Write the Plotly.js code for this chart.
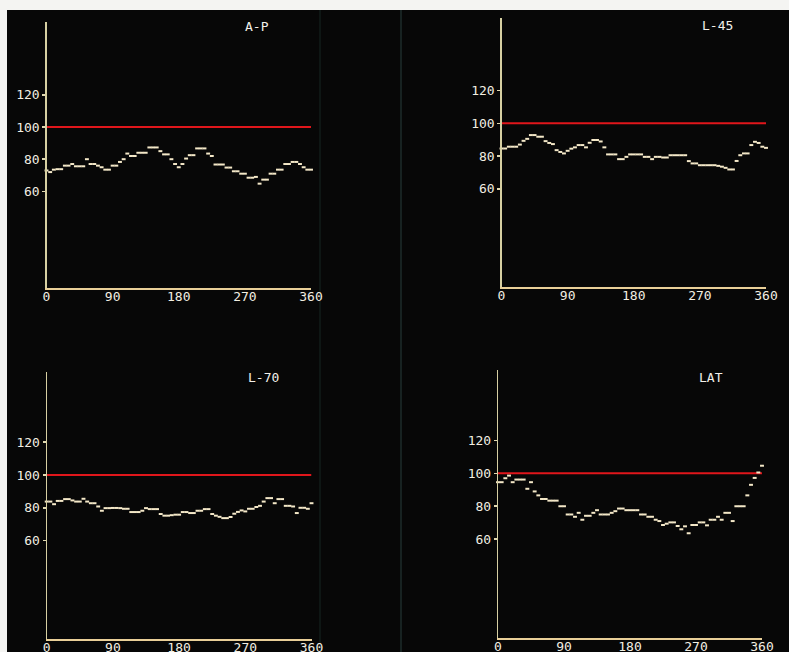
<!DOCTYPE html>
<html>
<head>
<meta charset="utf-8">
<script src="https://cdn.plot.ly/plotly-3.0.1.min.js"></script>
<style>
html,body{margin:0;padding:0;background:#f4f4f2;}
#chart{width:789px;height:652px;}
</style>
</head>
<body>
<div id="chart"></div>
<script>
// ---- data (angle in degrees, value in %) ----
const angles = [0,5,10,15,20,25,30,35,40,45,50,55,60,65,70,75,80,85,90,95,100,105,110,115,120,125,130,135,140,145,150,155,160,165,170,175,180,185,190,195,200,205,210,215,220,225,230,235,240,245,250,255,260,265,270,275,280,285,290,295,300,305,310,315,320,325,330,335,340,345,350,355,360];

const panelNames = ["A-P", "L-45", "L-70", "LAT"];

const apValues = [73,72,73.5,73.8,73.8,76,76,77,75.6,75.6,75.6,80,77,77,76,75,73.5,73.5,76,76,78.3,80,83.5,82,82,84,84,84,87.3,87.3,87.3,85,83,83,80,77,75,77,80.4,82.5,82.5,86.7,86.7,86.7,83.5,82,76.7,76.7,76.7,74.8,74.8,72.5,72.5,71,71,68.5,68.5,69,64.8,67.3,67.3,71,71,73.5,73.5,77,77,78.3,78.3,77,75,73.5,73.5];

const l45Values = [84.6,84.6,85.7,85.7,85.7,87,89.3,90.5,92.8,92.8,91.8,91.8,89.1,88,87.3,83.6,82.5,81.6,83.2,84.5,85.3,86.7,86.7,85.3,88.1,89.8,89.8,88.9,85.3,81,81,81,78.1,78.1,79.5,81,81,81,81,79.5,79.5,78.1,79.5,79.5,79.1,79.1,80.5,80.5,80.5,80.5,80.5,76.9,75.5,75.5,74.4,74.4,74.4,74.4,74.4,74,73.5,72.8,71.8,71.8,77,80.5,81.6,81.6,86.7,88.7,88,85.7,85];

const l70Values = [83.8,83.8,82.2,84.2,84.2,85.3,85.3,84.5,83.8,83.8,85.5,83.8,82.8,82.8,80.8,78.2,79.8,79.8,79.9,79.9,79.8,79.4,79.4,77.4,77.4,77.4,78.2,79.8,79.2,79.2,79.2,76.2,75.2,75.2,75.5,75.8,75.8,77.4,77.4,76.8,76.8,78.2,78.2,79.2,79.2,76.2,75.2,74.5,73.7,73.7,74.4,76.4,77.5,78.4,77.8,79.4,79.4,80.5,81.2,83.8,85.9,85.9,82.8,85.3,85.3,81.2,81.2,80.8,76.8,80,80,79.4,82.8];

const latValues = [94.6,94.6,97,98.6,94.6,96.2,96.2,96.2,90.6,94.6,89,86.6,84.4,84.4,83.4,83.4,83.4,80,80,75,75,73.6,76,71.8,74.2,74.2,76,77.6,75,75,75,76,77,78.6,78.6,77.6,77.6,77.6,77.6,75,75,73.6,73.6,71.8,71,68.6,69.4,70.2,70.2,68,66,67.8,63.6,68.6,68.6,70.2,70.2,68.4,71.8,71.8,73.6,71.8,76,76,71,80,80,80,86.6,93,97.2,100.5,104.6];

const refLineX = [0, 360];
const refLineY = [100, 100];

const xTicks = [0, 90, 180, 270, 360];
const yTicks = [60, 80, 100, 120];

// ---- geometry (pixels) ----
const W = 789, H = 652;
const geo = [
  {x0:46.5, x1:311,  y0:288, y100:127,   ytop:22,  tx:257, ty:27},
  {x0:501.5,x1:766,  y0:287, y100:123.3, ytop:18,  tx:717, ty:25},
  {x0:46.7, x1:311.5,y0:639, y100:475,   ytop:372, tx:263, ty:377},
  {x0:498,  x1:762,  y0:638, y100:473.3, ytop:370, tx:711, ty:377}
];
const series = [apValues, l45Values, l70Values, latValues];

const mono = "DejaVu Sans Mono, Liberation Mono, monospace";
const dotColor = "#f4e8c8";
const tickFont = {family: mono, size: 13, color: "#f2eee2"};

const traces = [];
const layout = {
  width: W, height: H,
  margin: {l:0, r:0, t:0, b:0},
  paper_bgcolor: "#f4f4f2",
  plot_bgcolor: "rgba(0,0,0,0)",
  showlegend: false,
  annotations: [],
  shapes: [
    {type:"rect", xref:"paper", yref:"paper", x0:7/W, x1:1, y0:0, y1:1-10/H,
     fillcolor:"#070707", line:{width:0}, layer:"below"},
    {type:"line", xref:"paper", yref:"paper", x0:401/W, x1:401/W, y0:0, y1:1-10/H,
     line:{color:"#1e2d2b", width:1.5}, layer:"below"},
    {type:"line", xref:"paper", yref:"paper", x0:320/W, x1:320/W, y0:0, y1:1-10/H,
     line:{color:"#121c1a", width:1.5}, layer:"below"}
  ]
};

geo.forEach((g, i) => {
  const n = i === 0 ? "" : String(i + 1);
  const ppu = (g.y0 - g.y100) / 100;
  const ymax = (g.y0 - g.ytop) / ppu;
  layout["xaxis" + n] = {
    domain: [g.x0 / W, g.x1 / W],
    range: [0, 360],
    anchor: "y" + n,
    showline: true, linecolor: "#e9cf98", linewidth: 1.5,
    showgrid: false, zeroline: false,
    tickvals: xTicks, ticks: "", tickfont: tickFont,
    ticklabelstandoff: -4,
    fixedrange: true
  };
  layout["yaxis" + n] = {
    domain: [1 - g.y0 / H, 1 - g.ytop / H],
    range: [0, ymax],
    anchor: "x" + n,
    showline: true, linecolor: "#d6cfa2", linewidth: 1.2,
    showgrid: false, zeroline: false,
    tickvals: yTicks, ticks: "outside", ticklen: 3, tickcolor: "#e0d8b0", tickwidth: 1.5,
    tickfont: tickFont,
    fixedrange: true
  };
  layout.annotations.push({
    text: panelNames[i], xref: "paper", yref: "paper",
    x: g.tx / W, y: 1 - g.ty / H, showarrow: false,
    xanchor: "center", yanchor: "middle",
    font: {family: mono, size: 13, color: "#f2f0ea"}
  });
  traces.push({
    x: refLineX, y: refLineY, xaxis: "x" + n, yaxis: "y" + n,
    mode: "lines", line: {color: "#e0161b", width: 2}, hoverinfo: "skip"
  });
  traces.push({
    x: angles, y: series[i], xaxis: "x" + n, yaxis: "y" + n,
    mode: "markers", cliponaxis: false,
    marker: {symbol: "line-ew", size: 2.8, color: dotColor,
             line: {color: dotColor, width: 2}},
    hoverinfo: "skip"
  });
});

Plotly.newPlot("chart", traces, layout, {displayModeBar: false, staticPlot: true});
</script>
</body>
</html>
